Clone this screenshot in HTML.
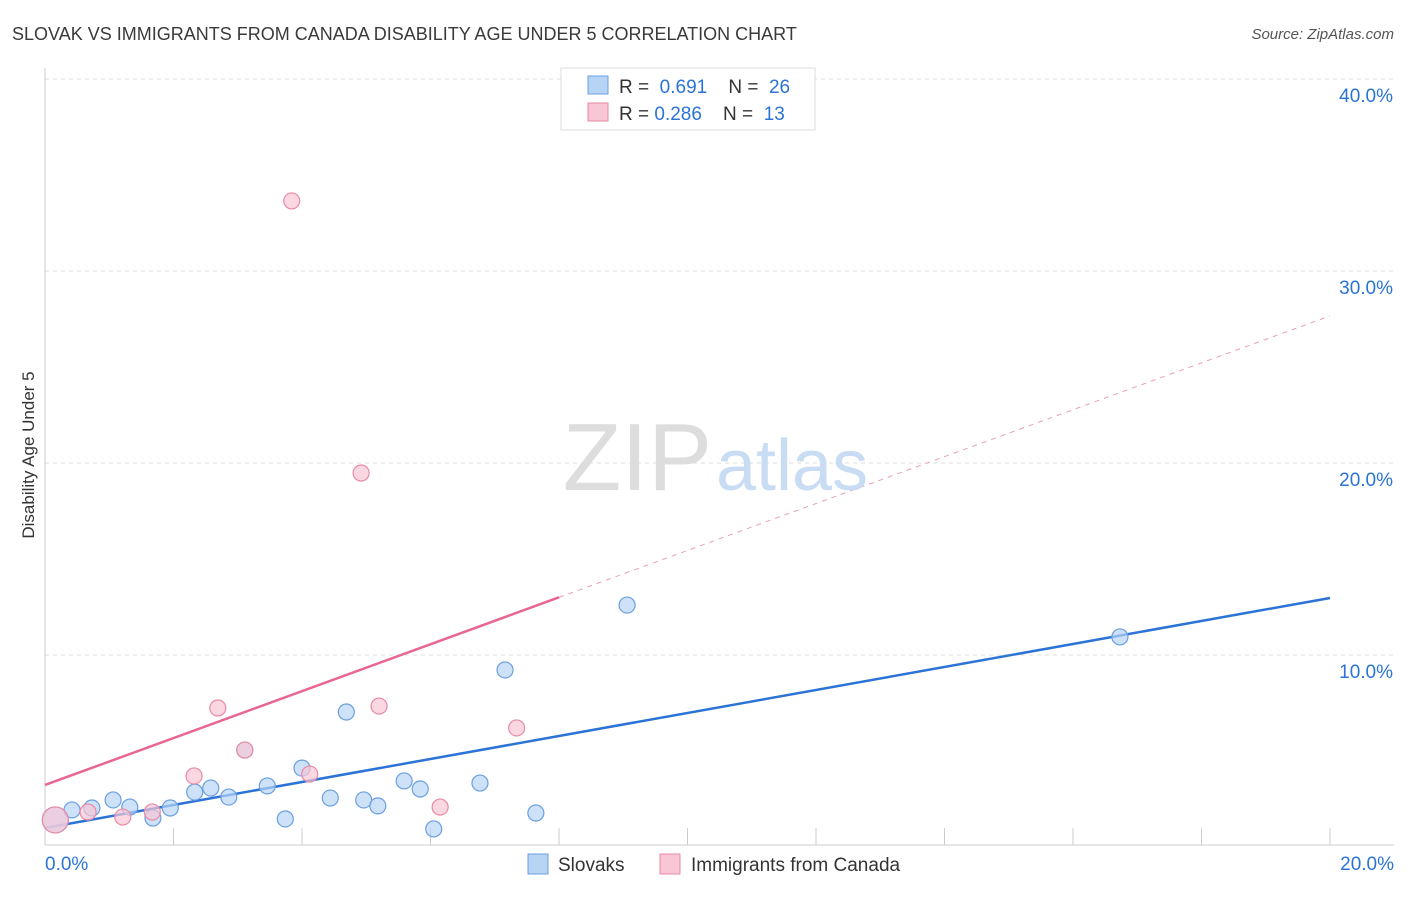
<!DOCTYPE html>
<html><head><meta charset="utf-8"><style>
body{margin:0;background:#fff;font-family:"Liberation Sans",sans-serif;}
svg text{font-family:"Liberation Sans",sans-serif;}
</style></head><body>
<svg id="chart" width="1406" height="892">
<text x="12" y="40" font-size="18" fill="#3a3a3a">SLOVAK VS IMMIGRANTS FROM CANADA DISABILITY AGE UNDER 5 CORRELATION CHART</text>
<text x="1394" y="39" font-size="15" fill="#555" font-style="italic" text-anchor="end">Source: ZipAtlas.com</text>
<text x="0" y="0" transform="translate(34,455) rotate(-90)" font-size="17" fill="#333" text-anchor="middle">Disability Age Under 5</text>
<g id="grid"></g><g id="lines"></g><g id="pts"></g>
<text x="712" y="490" font-size="96" fill="#ddd" font-family="Liberation Serif" text-anchor="end">ZIP</text>
<text x="716" y="490" font-size="72" fill="#c8dcf3">atlas</text>
<g>
<rect x="561" y="68" width="254" height="62" fill="#fff" stroke="#ddd"/>
<rect x="588" y="76" width="20" height="18" fill="#b8d4f5" stroke="#6a9fe0"/>
<rect x="588" y="103" width="20" height="18" fill="#f8c6d4" stroke="#e88aa6"/>
<text x="619" y="93" font-size="19" fill="#333" xml:space="preserve">R =  <tspan fill="#2b73d6">0.691</tspan>    N =  <tspan fill="#2b73d6">26</tspan></text>
<text x="619" y="120" font-size="19" fill="#333" xml:space="preserve">R = <tspan fill="#2b73d6">0.286</tspan>    N =  <tspan fill="#2b73d6">13</tspan></text>
</g>
<g>
<rect x="528" y="854" width="20" height="20" fill="#b8d4f5" stroke="#6a9fe0"/>
<text x="558" y="871" font-size="19" fill="#333">Slovaks</text>
<rect x="660" y="854" width="20" height="20" fill="#f8c6d4" stroke="#e88aa6"/>
<text x="691" y="871" font-size="19" fill="#333">Immigrants from Canada</text>
</g>
</svg>
<script>
const yTicks=[10,20,30,40];
const yTickLabels=["10.0%","20.0%","30.0%","40.0%"];
const xTicks=[0,2,4,6,8,10,12,14,16,18,20];
const slovakX=[0.16,0.42,0.73,1.06,1.32,1.68,1.95,2.33,2.58,2.86,3.11,3.46,3.74,4.00,4.44,4.69,4.96,5.18,5.59,5.84,6.05,6.77,7.16,7.64,9.06,16.73];
const slovakY=[1.41,1.93,2.03,2.45,2.08,1.51,2.03,2.86,3.07,2.60,5.05,3.18,1.46,4.11,2.55,7.03,2.45,2.14,3.44,3.02,0.94,3.33,9.22,1.77,12.60,10.94];
const canX=[0.16,0.67,1.21,1.67,2.32,2.69,3.11,3.84,4.12,4.92,5.20,6.15,7.34];
const canY=[1.41,1.82,1.56,1.82,3.70,7.24,5.05,33.65,3.80,19.48,7.34,2.08,6.20];
const slovakLine=[0.99,12.97];
const canLine=[3.23,27.66];
const canSolidEnd=8;
const NS="http://www.w3.org/2000/svg";
const sx=v=>45+v*64.25, sy=v=>847-v*19.2;
function mk(tag,attrs,parent){const e=document.createElementNS(NS,tag);for(const k in attrs)e.setAttribute(k,attrs[k]);document.getElementById(parent).appendChild(e);return e;}
yTicks.forEach((t,i)=>{
 const l=mk('line',{x1:45,x2:1394,y1:sy(t),y2:sy(t),stroke:'#ddd','stroke-dasharray':'4,4'},'grid');
 
 
 const tx=mk('text',{x:1393,y:sy(t)+23,'font-size':19,fill:'#2b73d6','text-anchor':'end'},'grid');
 tx.textContent=yTickLabels[i];
 
 
});
const ax=mk('line',{x1:45,x2:1394,y1:845,y2:845,stroke:'#ccc'},'grid');


const ay=mk('line',{x1:45,x2:45,y1:68,y2:845,stroke:'#ccc'},'grid');


xTicks.forEach(t=>{const l=mk('line',{x1:sx(t),x2:sx(t),y1:828,y2:845,stroke:'#ccc'},'grid');
 
 });
[[0,"0.0%",45,'start'],[20,"20.0%",1394,'end']].forEach(a=>{const t=mk('text',{x:a[2],y:870,'font-size':19,fill:'#2b73d6','text-anchor':a[3]},'grid');t.textContent=a[1];
 
 });
const f=(l,x)=>l[0]+(l[1]-l[0])*x/20;
let e=mk('line',{x1:sx(0),y1:sy(f(slovakLine,0)),x2:sx(20),y2:sy(f(slovakLine,20)),stroke:'#2b73d6','stroke-width':2.5},'lines');


e=mk('line',{x1:sx(0),y1:sy(f(canLine,0)),x2:sx(canSolidEnd),y2:sy(f(canLine,canSolidEnd)),stroke:'#e8668f','stroke-width':2.5},'lines');


e=mk('line',{x1:sx(canSolidEnd),y1:sy(f(canLine,canSolidEnd)),x2:sx(20),y2:sy(f(canLine,20)),stroke:'#e8a0b6','stroke-width':1,'stroke-dasharray':'5,5'},'lines');


function pts(X,Y,fill,stroke,name){X.forEach((x,i)=>{const r=i===0?13:8;
 const c=mk('circle',{cx:sx(x),cy:sy(Y[i]),r:r,fill:fill,'fill-opacity':0.7,stroke:stroke,'stroke-width':1.2},'pts');
 
 });}
pts(slovakX,slovakY,'#b8d4f5','#6a9fe0','slovak-point');
pts(canX,canY,'#f8c6d4','#e88aa6','canada-point');
</script>
</body></html>
